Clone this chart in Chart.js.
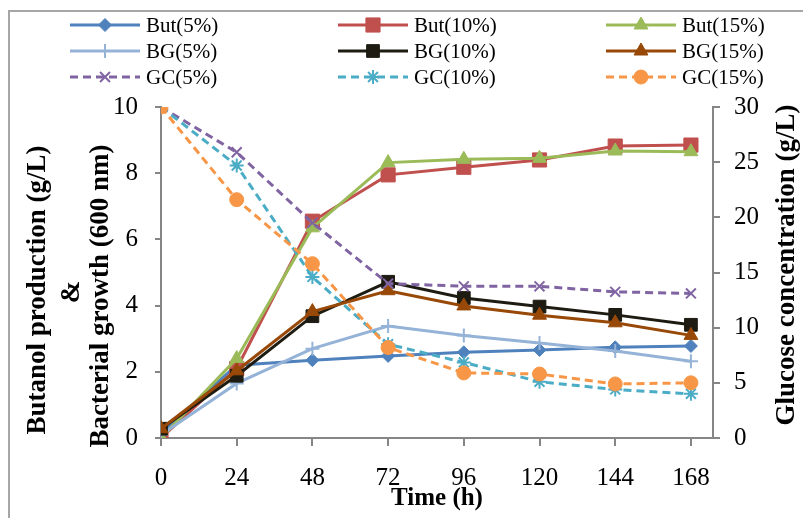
<!DOCTYPE html>
<html>
<head>
<meta charset="utf-8">
<script src="https://cdn.jsdelivr.net/npm/chart.js@4.4.1/dist/chart.umd.min.js"></script>
<style>
  body { margin: 0; background: #fff; }
  #wrap { width: 803px; height: 518px; }
</style>
</head>
<body>
<div id="wrap"><canvas id="fermChart" width="803" height="518"></canvas></div>
<script>
const times = [0, 24, 48, 72, 96, 120, 144, 168];
const leftTicks = [0, 2, 4, 6, 8, 10];
const rightTicks = [0, 5, 10, 15, 20, 25, 30];

// butanol (g/L) and growth (OD600) - left axis
const but5 = [0.15, 2.2, 2.35, 2.48, 2.59, 2.66, 2.74, 2.78];
const but10 = [0, 2.1, 6.55, 7.95, 8.18, 8.4, 8.82, 8.85];
const but15 = [0, 2.4, 6.35, 8.32, 8.42, 8.45, 8.67, 8.65];
const bg5 = [0.1, 1.65, 2.7, 3.38, 3.1, 2.87, 2.63, 2.32];
const bg10 = [0.28, 1.88, 3.68, 4.72, 4.23, 3.97, 3.72, 3.42];
const bg15 = [0.28, 2.03, 3.82, 4.45, 3.99, 3.71, 3.48, 3.1];
// glucose (g/L) - right axis
const gc5 = [30, 25.9, 19.5, 14.0, 13.75, 13.75, 13.25, 13.1];
const gc10 = [30, 24.7, 14.6, 8.5, 6.85, 5.1, 4.4, 4.0];
const gc15 = [30, 21.6, 15.8, 8.2, 5.9, 5.8, 4.9, 5.0];

const serif = '"Liberation Serif", "Times New Roman", serif';
const axisGray = '#868686';

function pts(vals) {
    return vals.map((v, i) => ({ x: times[i], y: v }));
}

function series(label, vals, color, style, radius, axis, dashed) {
    return {
        label: label,
        data: pts(vals),
        yAxisID: axis,
        borderColor: color,
        backgroundColor: color,
        borderWidth: 3,
        borderDash: dashed ? [8, 5] : [],
        pointStyle: style,
        pointRadius: radius,
        pointBorderWidth: style === 'cross' || style === 'crossRot' || style === 'star' ? 2 : 1,
        pointBorderColor: color,
        pointBackgroundColor: color,
        tension: 0,
        fill: false
    };
}

const datasets = [
    series('But(5%)', but5, '#4F81BD', 'rectRot', 6.5, 'y', false),
    series('But(10%)', but10, '#C0504D', 'rect', 10, 'y', false),
    series('But(15%)', but15, '#9BBB59', 'triangle', 8, 'y', false),
    series('BG(5%)', bg5, '#95B3D7', 'cross', 7, 'y', false),
    series('BG(10%)', bg10, '#1E1C12', 'rect', 9, 'y', false),
    series('BG(15%)', bg15, '#984807', 'triangle', 8, 'y', false),
    series('GC(5%)', gc5, '#8064A2', 'crossRot', 7, 'y2', true),
    series('GC(10%)', gc10, '#4BACC6', 'star', 7, 'y2', true),
    series('GC(15%)', gc15, '#F79646', 'circle', 7, 'y2', true)
];
// later series on top, like the original
datasets.forEach((d, i) => { d.order = datasets.length - i; });

// legend + outer frame + side titles
const extras = {
    id: 'extras',
    afterDraw(chart) {
        const ctx = chart.ctx;
        ctx.save();
        // frame
        ctx.strokeStyle = '#a6a6a6';
        ctx.lineWidth = 2;
        ctx.beginPath();
        ctx.moveTo(9, 520);
        ctx.lineTo(9, 11);
        ctx.lineTo(805, 11);
        ctx.stroke();

        // legend, 3 columns
        const colX = [70, 338, 606];
        const rowY = [25, 51, 77];
        chart.data.datasets.forEach((d, i) => {
            const x0 = colX[i % 3];
            const y0 = rowY[Math.floor(i / 3)];
            ctx.strokeStyle = d.borderColor;
            ctx.lineWidth = 3;
            ctx.setLineDash(d.borderDash);
            ctx.beginPath();
            ctx.moveTo(x0, y0);
            ctx.lineTo(x0 + 70, y0);
            ctx.stroke();
            ctx.setLineDash([]);
            ctx.fillStyle = d.pointBackgroundColor;
            ctx.strokeStyle = d.pointBorderColor;
            ctx.lineWidth = d.pointBorderWidth;
            Chart.helpers.drawPoint(ctx, {
                pointStyle: d.pointStyle,
                radius: d.pointRadius,
                borderWidth: d.pointBorderWidth,
                rotation: 0
            }, x0 + 35, y0);
            ctx.fillStyle = '#000';
            ctx.font = '21px ' + serif;
            ctx.textAlign = 'left';
            ctx.textBaseline = 'middle';
            ctx.fillText(d.label, x0 + 76, y0 + 1);
        });

        // y titles (both read bottom to top)
        ctx.fillStyle = '#000';
        ctx.font = 'bold 27px ' + serif;
        ctx.textAlign = 'center';
        ctx.textBaseline = 'middle';
        const leftLines = [['Butanol production (g/L)', 38, 290], ['&', 72, 292], ['Bacterial growth (600 nm)', 101, 296]];
        leftLines.forEach(([t, x, y]) => {
            ctx.save();
            ctx.translate(x, y);
            ctx.rotate(-Math.PI / 2);
            ctx.fillText(t, 0, 0);
            ctx.restore();
        });
        ctx.save();
        ctx.translate(787, 265);
        ctx.rotate(-Math.PI / 2);
        ctx.fillText('Glucose concentration (g/L)', 0, 0);
        ctx.restore();
        ctx.restore();
    }
};

const ctx = document.getElementById('fermChart').getContext('2d');
const fermChart = new Chart(ctx, {
    type: 'line',
    data: { datasets: datasets },
    options: {
        responsive: false,
        animation: false,
        layout: { padding: { top: 107, left: 0, right: 0, bottom: 0 } },
        plugins: {
            legend: { display: false },
            tooltip: { enabled: false }
        },
        scales: {
            x: {
                type: 'linear',
                min: 0,
                max: 175,
                afterBuildTicks: axis => { axis.ticks = times.map(v => ({ value: v })); },
                afterFit: s => { s.height = 80; },
                ticks: { color: '#000', font: { family: serif, size: 25 }, padding: 17, maxRotation: 0 },
                grid: { drawOnChartArea: false, tickLength: 8, color: axisGray, lineWidth: 2 },
                border: { color: axisGray, width: 2 },
                title: {
                    display: true,
                    text: 'Time (h)',
                    color: '#000',
                    font: { family: serif, size: 25, weight: 'bold' },
                    padding: { top: 0, bottom: 4 }
                }
            },
            y: {
                position: 'left',
                min: 0,
                max: 10,
                afterBuildTicks: axis => { axis.ticks = leftTicks.map(v => ({ value: v })); },
                afterFit: s => { s.width = 161; },
                ticks: { color: '#000', font: { family: serif, size: 25 }, padding: 17 },
                grid: { drawOnChartArea: false, tickLength: 6, color: axisGray, lineWidth: 2 },
                border: { color: axisGray, width: 2 }
            },
            y2: {
                position: 'right',
                min: 0,
                max: 30,
                afterBuildTicks: axis => { axis.ticks = rightTicks.map(v => ({ value: v })); },
                afterFit: s => { s.width = 90; },
                ticks: { color: '#000', font: { family: serif, size: 25 }, padding: 14 },
                grid: { drawOnChartArea: false, tickLength: 7, color: axisGray, lineWidth: 2 },
                border: { color: axisGray, width: 2 }
            }
        }
    },
    plugins: [extras]
});
</script>
</body>
</html>
